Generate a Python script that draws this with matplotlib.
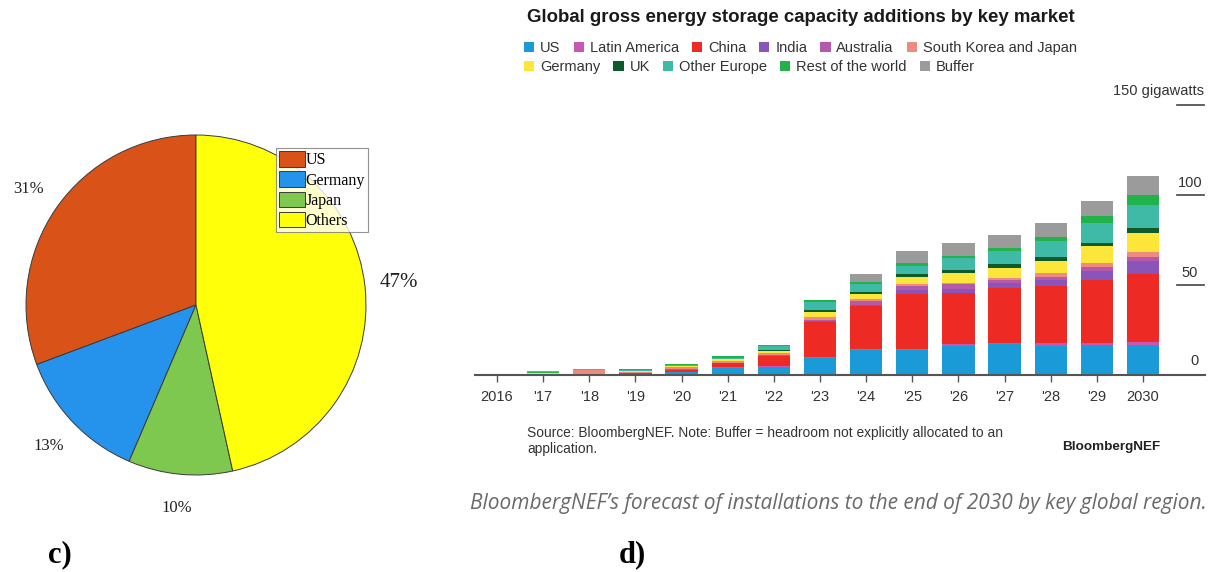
import numpy as np
import matplotlib
matplotlib.use("Agg")
import matplotlib.pyplot as plt
from matplotlib.patches import Patch

# ---- pie data (panel c) ----
pie_labels = ["US", "Germany", "Japan", "Others"]
pie_shares = [31, 13, 10, 47]
pie_colors = ["#d95319", "#2592ec", "#7ec850", "#ffff0a"]

# ---- stacked bar data (panel d), gigawatts ----
years = ["2016", "'17", "'18", "'19", "'20", "'21", "'22", "'23",
         "'24", "'25", "'26", "'27", "'28", "'29", "2030"]
us            = [0.0, 0.3, 0.4, 0.4, 1.5, 4.1, 4.5, 9.4, 13.7, 13.9, 16.3, 17.0, 16.3, 16.7, 16.7]
latin_america = [0.0, 0.0, 0.0, 0.0, 0.0, 0.2, 0.3, 0.7, 0.9, 0.7, 0.7, 0.9, 1.3, 1.3, 1.9]
china         = [0.0, 0.0, 0.3, 0.6, 1.5, 2.4, 5.6, 19.6, 23.5, 30.2, 28.3, 30.2, 32.0, 34.8, 37.4]
india         = [0.0, 0.0, 0.0, 0.0, 0.0, 0.0, 0.2, 0.3, 0.8, 2.4, 2.4, 2.8, 3.1, 5.0, 7.4]
australia     = [0.0, 0.0, 0.0, 0.0, 0.1, 0.2, 0.3, 0.3, 2.2, 2.4, 2.6, 1.9, 1.9, 2.4, 2.4]
sk_japan      = [0.4, 0.4, 2.2, 0.8, 1.1, 0.9, 1.3, 1.9, 1.3, 0.7, 0.9, 0.9, 1.9, 1.9, 2.4]
germany       = [0.0, 0.3, 0.0, 0.3, 0.6, 0.9, 1.3, 2.8, 2.8, 4.3, 5.2, 5.6, 6.9, 9.3, 10.6]
uk            = [0.0, 0.0, 0.0, 0.0, 0.0, 0.0, 0.3, 0.9, 0.9, 1.3, 2.2, 2.2, 1.9, 1.9, 2.8]
other_europe  = [0.1, 0.3, 0.4, 0.5, 0.7, 0.9, 2.1, 4.6, 4.6, 4.8, 6.5, 7.4, 8.9, 11.1, 13.0]
rest_of_world = [0.2, 0.3, 0.0, 0.5, 0.7, 0.7, 0.9, 0.9, 0.7, 1.3, 1.1, 1.9, 2.2, 3.7, 5.6]
buffer        = [0.0, 0.4, 0.0, 0.0, 0.0, 0.0, 0.0, 0.0, 4.8, 7.0, 6.9, 7.0, 8.0, 8.7, 10.2]

series = [
    ("US", us, "#1a9bd7"),
    ("Latin America", latin_america, "#c756b4"),
    ("China", china, "#ee2a24"),
    ("India", india, "#8a55b8"),
    ("Australia", australia, "#b35aad"),
    ("South Korea and Japan", sk_japan, "#ee8a7e"),
    ("Germany", germany, "#fde63a"),
    ("UK", uk, "#0d5a2a"),
    ("Other Europe", other_europe, "#3fbaa6"),
    ("Rest of the world", rest_of_world, "#22b24c"),
    ("Buffer", buffer, "#9b9b9b"),
]

W, H = 1209, 572
fig = plt.figure(figsize=(W / 100, H / 100), dpi=100)
fig.patch.set_facecolor("white")


def px(x0, y0, w, h):
    """pixel box (top-left origin) -> figure fraction rect"""
    return [x0 / W, (H - y0 - h) / H, w / W, h / H]


serif = "Liberation Serif"
sans = "Liberation Sans"

# ============ panel c: pie ============
ax_pie = fig.add_axes(px(26, 135, 340, 340))
wedges, texts = ax_pie.pie(
    pie_shares, colors=pie_colors, startangle=90, counterclock=True,
    labels=[f"{v}%" for v in pie_shares], labeldistance=1.2,
    wedgeprops=dict(edgecolor="#3a3a3a", linewidth=0.7),
    textprops=dict(family=serif, fontsize=12, color="#222222"),
)
for t in texts:
    t.set_horizontalalignment("center")
texts[3].set_fontsize(15)
ax_pie.set_xlim(-1.0, 1.0)
ax_pie.set_ylim(-1.0, 1.0)
ax_pie.set_aspect("equal")

leg_pie = ax_pie.legend(
    wedges, pie_labels, loc="upper left",
    bbox_to_anchor=(276 / W, (H - 148) / H), bbox_transform=fig.transFigure,
    prop=dict(family=serif, size=11.5), frameon=True, fancybox=False,
    edgecolor="#777777", borderpad=0.2, handlelength=1.6, handleheight=1.1,
    handletextpad=0.05, labelspacing=0.2, borderaxespad=0,
)
leg_pie.get_frame().set_linewidth(0.8)

fig.text(60 / W, 1 - 555 / H, "c)", family=serif, fontsize=22,
         fontweight="bold", ha="center", va="center")
fig.text(632 / W, 1 - 555 / H, "d)", family=serif, fontsize=22,
         fontweight="bold", ha="center", va="center")

# ============ panel d: stacked bars ============
# bar centres from x=497 to x=1143 px, y from 0 (375 px) to 150 (105 px)
step = (1143 - 497) / 14
left_px, right_px = 475, 1205
ax = fig.add_axes(px(left_px, 105, right_px - left_px, 270))
ax.set_xlim(-(497 - left_px) / step, (right_px - 497) / step)
ax.set_ylim(0, 150)

x = np.arange(len(years))
bottom = np.zeros(len(years))
for name, vals, col in series:
    vals = np.array(vals)
    ax.bar(x, vals, bottom=bottom, width=0.7, color=col, linewidth=0)
    bottom += vals

for s in ax.spines.values():
    s.set_visible(False)
ax.set_yticks([])
ax.set_xticks(x)
ax.set_xticklabels(years, family=sans, fontsize=10.5, color="#333333")
ax.tick_params(axis="x", length=5, width=1, color="#555555", pad=6)
ax.axhline(0, color="#555555", lw=1.5, zorder=3, clip_on=False)

# right-side value scale
x_lab = (1190 - 497) / step
x_l0, x_l1 = (1177 - 497) / step, (1204 - 497) / step
for v in [50, 100]:
    ax.plot([x_l0, x_l1], [v, v], color="#444444", lw=1.2, clip_on=False)
    ax.text(x_lab, v + 3, str(v), ha="center", va="bottom",
            family=sans, fontsize=10.5, color="#333333")
ax.text(x_lab + 0.1, 4, "0", ha="center", va="bottom",
        family=sans, fontsize=10.5, color="#333333")
ax.plot([x_l0, x_l1], [150, 150], color="#444444", lw=1.2, clip_on=False)
ax.text(x_l1, 154, "150 gigawatts", ha="right", va="bottom",
        family=sans, fontsize=10.5, color="#333333")

# title
fig.text(527 / W, 1 - 18 / H, "Global gross energy storage capacity additions by key market",
         family=sans, fontsize=13.4, fontweight="bold", color="#1a1a1a",
         ha="left", va="center")

# legend, two rows
handles = [Patch(facecolor=c, edgecolor="none") for _, _, c in series]
names = [n for n, _, _ in series]
leg_kw = dict(frameon=False, prop=dict(family=sans, size=10.5),
              handlelength=0.7, handleheight=0.7, handletextpad=0.4,
              columnspacing=0.9, borderaxespad=0, borderpad=0,
              loc="center left", bbox_transform=fig.transFigure)
leg1 = fig.legend(handles[:6], names[:6], ncol=6,
                  bbox_to_anchor=(524 / W, 1 - 48 / H), **leg_kw)
for t in leg1.get_texts():
    t.set_color("#333333")
leg2 = fig.legend(handles[6:], names[6:], ncol=5,
                  bbox_to_anchor=(524 / W, 1 - 67 / H), **leg_kw)
for t in leg2.get_texts():
    t.set_color("#333333")

# footnote
fig.text(527 / W, 1 - 441 / H,
         "Source: BloombergNEF. Note: Buffer = headroom not explicitly allocated to an\napplication.",
         family=sans, fontsize=9.9, color="#333333", ha="left", va="center",
         linespacing=1.1)
fig.text(1160 / W, 1 - 447 / H, "BloombergNEF", family=sans, fontsize=9.7,
         fontweight="bold", color="#222222", ha="right", va="center")

# caption
fig.text(1207 / W, 1 - 503 / H,
         "BloombergNEF\u2019s forecast of installations to the end of 2030 by key global region.",
         family="Open Sans", style="italic", fontsize=15.0, color="#6a6a6a",
         ha="right", va="center")

fig.savefig("out.png", dpi=100, facecolor="white")
